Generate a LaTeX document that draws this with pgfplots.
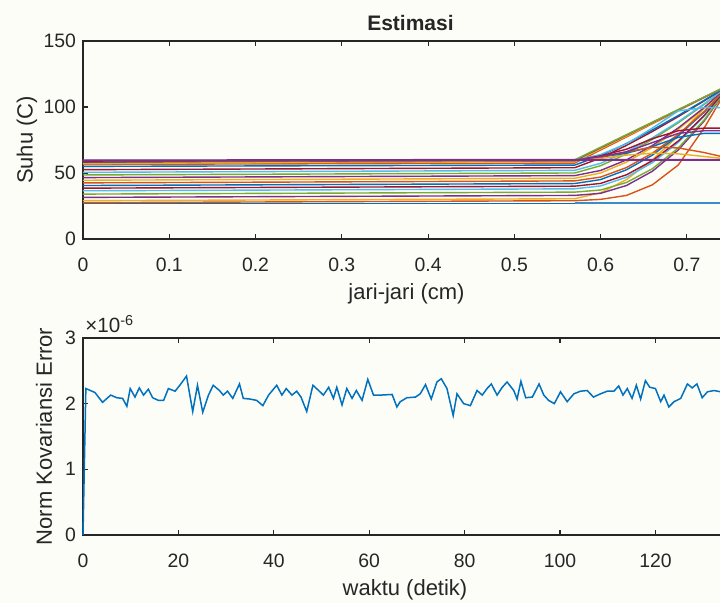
\documentclass[border=0pt]{standalone}
\usepackage{fontspec}
\setmainfont{Liberation Sans}
\usepackage{pgfplots}
\pgfplotsset{compat=1.18}
\definecolor{c1}{rgb}{0,0.447,0.741}
\definecolor{c2}{rgb}{0.85,0.325,0.098}
\definecolor{c3}{rgb}{0.929,0.694,0.125}
\definecolor{c4}{rgb}{0.494,0.184,0.556}
\definecolor{c5}{rgb}{0.466,0.674,0.188}
\definecolor{c6}{rgb}{0.301,0.745,0.933}
\definecolor{c7}{rgb}{0.635,0.078,0.184}
\definecolor{cb}{RGB}{60,140,205}
\definecolor{axc}{rgb}{0.15,0.15,0.15}
\definecolor{bg}{RGB}{253,253,248}
\pgfplotsset{mat/.style={
  scale only axis,
  axis line style={axc, line width=0.55pt},
  tick style={axc, line width=0.55pt},
  major tick length=2.6pt,
  tick align=inside,
  every tick label/.append style={font=\fontsize{9.7}{11}\selectfont, text=axc},
  xticklabel style={yshift=-6pt},
  /pgf/number format/assume math mode=true,
  label style={font=\fontsize{11}{13}\selectfont, text=axc},
  clip=false,
  every axis plot/.append style={line width=0.7pt},
}}
\begin{document}
\begin{tikzpicture}
\useasboundingbox (0,0) rectangle (360pt,301.5pt);
\fill[bg] (0,0) rectangle (360pt,301.5pt);
\clip (0,0) rectangle (360pt,301.5pt);
% ---------------- top axis ----------------
\begin{axis}[mat, name=top,
  at={(41.5pt,182pt)}, anchor=south west,
  width=323.5pt, height=99pt,
  xmin=0, xmax=0.75, ymin=0, ymax=150,
  xtick={0,0.1,0.2,0.3,0.4,0.5,0.6,0.7},
  xticklabels={0,0.1,0.2,0.3,0.4,0.5,0.6,0.7},
  ytick={0,50,100,150},
  xlabel={jari-jari (cm)},
  xlabel style={at={(rel axis cs:0.5,-0.278)}, anchor=center},
  ylabel={Suhu (C)},
  ylabel style={at={(rel axis cs:-0.0866,0.5)}, anchor=center},
]
\addplot[c1] coordinates {(0,27)(0.57,27)(0.60,27)(0.63,27)(0.66,27)(0.69,27)(0.72,27)(0.75,27)};
\addplot[c2] coordinates {(0,27.5)(0.57,29)(0.60,30)(0.63,33)(0.66,41)(0.69,56)(0.72,84)(0.75,117)};
\addplot[c3] coordinates {(0,29)(0.57,30.5)(0.60,35)(0.63,45)(0.66,60)(0.69,78)(0.72,99)(0.75,117)};
\addplot[c4] coordinates {(0,31.5)(0.57,33)(0.60,34.6)(0.63,40.5)(0.66,51.3)(0.69,67.4)(0.72,89.3)(0.75,117)};
\addplot[c5] coordinates {(0,34)(0.57,35.5)(0.60,37.1)(0.63,42.8)(0.66,53.2)(0.69,68.9)(0.72,90.1)(0.75,117)};
\addplot[c6] coordinates {(0,36.5)(0.57,38)(0.60,40.2)(0.63,46.8)(0.66,57.8)(0.69,73.1)(0.72,92.9)(0.75,117)};
\addplot[c7] coordinates {(0,38.5)(0.57,40)(0.60,42.1)(0.63,48.6)(0.66,59.3)(0.69,74.2)(0.72,93.5)(0.75,117)};
\addplot[c1] coordinates {(0,40.5)(0.57,42)(0.60,45.0)(0.63,52.4)(0.66,63.5)(0.69,78.2)(0.72,96.0)(0.75,117)};
\addplot[c2] coordinates {(0,42.5)(0.57,44)(0.60,46.9)(0.63,54.1)(0.66,65.0)(0.69,79.2)(0.72,96.6)(0.75,117)};
\addplot[c3] coordinates {(0,44.5)(0.57,46)(0.60,50.0)(0.63,58.2)(0.66,69.4)(0.69,83.1)(0.72,99.0)(0.75,117)};
\addplot[c4] coordinates {(0,46.5)(0.57,48)(0.60,51.9)(0.63,59.9)(0.66,70.8)(0.69,84.1)(0.72,99.5)(0.75,117)};
\addplot[c5] coordinates {(0,48.5)(0.57,50)(0.60,55.5)(0.63,64.4)(0.66,75.4)(0.69,88.0)(0.72,101.9)(0.75,117)};
\addplot[c6] coordinates {(0,50.5)(0.57,52)(0.60,57.3)(0.63,66.0)(0.66,76.6)(0.69,88.8)(0.72,102.4)(0.75,117)};
\addplot[c7] coordinates {(0,52.5)(0.57,54)(0.60,61.3)(0.63,70.9)(0.66,81.4)(0.69,92.7)(0.72,104.6)(0.75,117)};
\addplot[c1] coordinates {(0,55)(0.57,56)(0.60,63.1)(0.63,72.3)(0.66,82.6)(0.69,93.5)(0.72,105.0)(0.75,117)};
\addplot[c2] coordinates {(0,56.5)(0.57,57.5)(0.60,67.4)(0.63,77.3)(0.66,87.3)(0.69,97.2)(0.72,107.1)(0.75,117)};
\addplot[c3] coordinates {(0,57.5)(0.57,58.5)(0.60,68.3)(0.63,78.0)(0.66,87.8)(0.69,97.5)(0.72,107.3)(0.75,117)};
\addplot[c4] coordinates {(0,58.5)(0.57,59.5)(0.60,69.1)(0.63,78.7)(0.66,88.3)(0.69,97.8)(0.72,107.4)(0.75,117)};
\addplot[c5] coordinates {(0,59)(0.57,60)(0.60,69.5)(0.63,79)(0.66,88.5)(0.69,98)(0.72,107.5)(0.75,117)};
\addplot[c6] coordinates {(0,58)(0.57,59.5)(0.60,64)(0.63,72)(0.66,84)(0.69,97)(0.72,99.5)(0.75,99.5)};
\addplot[c7] coordinates {(0,58)(0.57,59.5)(0.60,63)(0.63,68)(0.66,76)(0.69,82)(0.72,84)(0.75,84)};
\addplot[c1] coordinates {(0,57.5)(0.57,59.5)(0.60,62)(0.63,65)(0.66,70)(0.69,77)(0.72,80)(0.75,80)};
\addplot[c2] coordinates {(0,57)(0.57,59.5)(0.60,62)(0.63,66)(0.66,69.5)(0.69,69)(0.72,65.5)(0.75,61)};
\addplot[c3] coordinates {(0,57)(0.57,59.5)(0.60,61)(0.63,63.5)(0.66,65)(0.69,64.5)(0.72,62.5)(0.75,60.5)};
\addplot[c4] coordinates {(0,58.5)(0.57,59.5)(0.60,62.5)(0.63,66)(0.66,73)(0.69,80)(0.72,82)(0.75,82)};
\addplot[c5] coordinates {(0,59)(0.57,59.5)(0.60,59.8)(0.63,60)(0.66,60)(0.69,60)(0.72,60)(0.75,60)};
\addplot[c6] coordinates {(0,59.5)(0.57,60)(0.60,60)(0.63,60)(0.66,60)(0.69,60)(0.72,60)(0.75,60)};
\addplot[c7] coordinates {(0,59)(0.57,60)(0.60,60)(0.63,60)(0.66,60)(0.69,60)(0.72,60)(0.75,60)};
\addplot[c4, line width=1pt] coordinates {(0,59.5)(0.57,60)(0.60,60)(0.63,60)(0.66,60)(0.69,60)(0.72,60)(0.75,60)};
\addplot[cb, line width=0.9pt] coordinates {(0.57,27)(0.60,27)(0.63,27)(0.66,27)(0.69,27)(0.72,27)(0.75,27)};
\end{axis}
\node[font=\bfseries\fontsize{10.5}{12}\selectfont, text=axc] at ([xshift=2pt,yshift=9pt]top.north) {Estimasi};
% ---------------- bottom axis ----------------
\begin{axis}[mat, name=bot,
  at={(41.5pt,34pt)}, anchor=south west,
  width=322pt, height=98.5pt,
  xmin=0, xmax=135, ymin=0, ymax=3e-6,
  xtick={0,20,40,60,80,100,120},
  ytick={0,1e-6,2e-6,3e-6},
  yticklabels={0,1,2,3},
  scaled y ticks=false,
  xlabel={waktu (detik)},
  xlabel style={at={(rel axis cs:0.5,-0.28)}, anchor=center},
  ylabel={Norm Kovariansi Error},
  ylabel style={at={(rel axis cs:-0.0606,0.5)}, anchor=center},
]
\addplot[c1, line width=0.75pt] coordinates {
(0,0)(0.6,2.23e-6)(2.5,2.17e-6)(4.1,2.02e-6)(5.8,2.13e-6)(7.1,2.09e-6)(8.3,2.08e-6)(9.2,1.96e-6)(9.9,2.23e-6)
(10.9,2.10e-6)(11.8,2.24e-6)(12.7,2.13e-6)(13.7,2.22e-6)(14.6,2.09e-6)(15.8,2.05e-6)(16.9,2.05e-6)(17.9,2.23e-6)
(19.3,2.19e-6)(20.3,2.28e-6)(21.7,2.42e-6)(23.0,1.88e-6)(24.0,2.28e-6)(25.1,1.87e-6)(26.3,2.13e-6)(27.3,2.28e-6)
(28.6,2.20e-6)(29.4,2.13e-6)(30.3,2.19e-6)(31.4,2.08e-6)(32.8,2.30e-6)(33.6,2.08e-6)(35.0,2.07e-6)(36.4,2.05e-6)
(37.7,1.97e-6)(38.9,2.13e-6)(40.6,2.28e-6)(41.7,2.13e-6)(42.6,2.23e-6)(43.8,2.13e-6)(44.8,2.19e-6)(45.7,2.10e-6)
(46.9,1.88e-6)(48.2,2.28e-6)(49.4,2.20e-6)(50.4,2.13e-6)(51.5,2.25e-6)(52.5,2.08e-6)(53.2,2.25e-6)(54.3,1.98e-6)
(55.3,2.23e-6)(56.4,2.08e-6)(57.3,2.20e-6)(58.5,2.05e-6)(59.7,2.37e-6)(60.9,2.13e-6)(62.3,2.13e-6)(64.8,2.14e-6)
(65.8,1.95e-6)(66.5,2.03e-6)(67.9,2.09e-6)(69.7,2.10e-6)(70.7,2.15e-6)(71.8,2.29e-6)(73.0,2.07e-6)(74.2,2.33e-6)
(75.1,2.38e-6)(76.3,2.23e-6)(77.6,1.82e-6)(78.4,2.15e-6)(79.8,2.00e-6)(81.2,1.97e-6)(82.6,2.20e-6)(83.7,2.13e-6)
(84.7,2.23e-6)(85.6,2.30e-6)(86.8,2.13e-6)(87.9,2.25e-6)(88.9,2.33e-6)(90.3,2.20e-6)(91.0,2.07e-6)(91.8,2.34e-6)
(92.8,2.09e-6)(94.2,2.10e-6)(95.6,2.30e-6)(96.6,2.13e-6)(97.6,2.05e-6)(98.8,2.00e-6)(100.1,2.18e-6)(101.5,2.03e-6)
(102.9,2.15e-6)(104.3,2.19e-6)(105.7,2.20e-6)(107.0,2.10e-6)(108.5,2.15e-6)(109.9,2.19e-6)(111.3,2.19e-6)(112.3,2.27e-6)
(113.2,2.13e-6)(114.1,2.23e-6)(115.1,2.08e-6)(116.0,2.28e-6)(116.9,2.07e-6)(117.9,2.35e-6)(118.8,2.25e-6)(120.0,2.23e-6)
(121.1,2.03e-6)(121.8,2.13e-6)(122.8,1.95e-6)(123.9,2.03e-6)(125.3,2.08e-6)(126.7,2.30e-6)(127.7,2.24e-6)(128.7,2.30e-6)
(129.8,2.09e-6)(130.9,2.18e-6)(132.3,2.20e-6)(133.7,2.18e-6)(135,2.15e-6)
};
\end{axis}
\node[anchor=south west, inner sep=0pt, font=\fontsize{10.3}{12}\selectfont, text=axc] at ([xshift=1pt,yshift=2.5pt]bot.north west) {×10\textsuperscript{-6}};
\end{tikzpicture}
\end{document}
